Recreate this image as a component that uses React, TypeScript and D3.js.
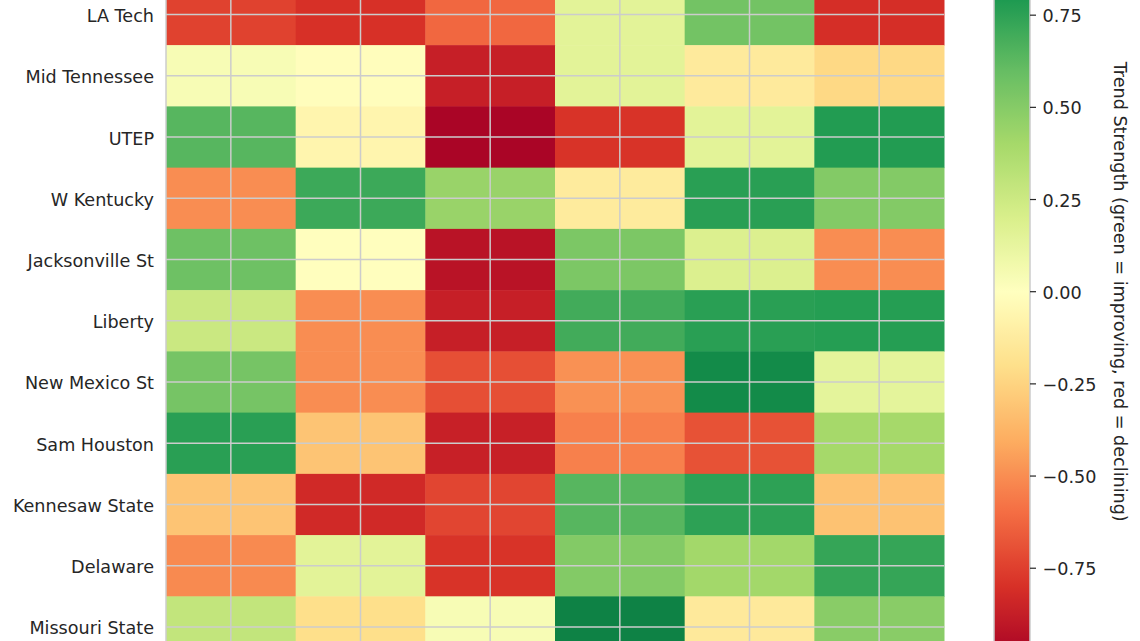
import React from "react";
import * as d3 from "d3";

const teams = [
  "LA Tech",
  "Mid Tennessee",
  "UTEP",
  "W Kentucky",
  "Jacksonville St",
  "Liberty",
  "New Mexico St",
  "Sam Houston",
  "Kennesaw State",
  "Delaware",
  "Missouri State",
];

const metrics = ["m1", "m2", "m3", "m4", "m5", "m6"];

const laTech = [-0.74, -0.8, -0.62, 0.15, 0.56, -0.81];
const midTennessee = [0.04, -0.01, -0.87, 0.15, -0.135, -0.23];
const utep = [0.64, -0.065, -0.98, -0.79, 0.15, 0.78];
const wKentucky = [-0.5, 0.71, 0.44, -0.13, 0.76, 0.51];
const jacksonvilleSt = [0.575, -0.005, -0.92, 0.53, 0.184, -0.5];
const liberty = [0.26, -0.5, -0.87, 0.695, 0.76, 0.77];
const newMexicoSt = [0.55, -0.5, -0.7, -0.49, 0.855, 0.14];
const samHouston = [0.76, -0.31, -0.865, -0.54, -0.69, 0.4];
const kennesawState = [-0.31, -0.83, -0.73, 0.64, 0.75, -0.32];
const delaware = [-0.51, 0.15, -0.79, 0.51, 0.41, 0.73];
const missouriState = [0.29, -0.2, 0.04, 0.89, -0.14, 0.49];

const values = [
  laTech,
  midTennessee,
  utep,
  wKentucky,
  jacksonvilleSt,
  liberty,
  newMexicoSt,
  samHouston,
  kennesawState,
  delaware,
  missouriState,
];

const cbTicks = [-0.75, -0.5, -0.25, 0, 0.25, 0.5, 0.75];
const cbLabel = "Trend Strength (green = improving, red = declining)";

const W = 1140;
const H = 641;

export default function App() {
  const scheme = d3.schemeRdYlGn[11] as string[];
  const color = d3
    .scaleLinear<string>()
    .domain(d3.range(11).map((i) => -1 + i * 0.2))
    .range(scheme)
    .interpolate(d3.interpolateRgb)
    .clamp(true);

  const x = d3.scaleBand<string>().domain(metrics).range([166, 944]);
  const y = d3.scaleBand<string>().domain(teams).range([-16.1, 657.6]);

  const cbY = d3.scaleLinear().domain([-1, 1]).range([660.4, -77]);
  const cbX0 = 994;
  const cbX1 = 1030;

  const stops = d3.range(0, 101).map((i) => {
    const v = 1 - (i / 100) * 2;
    return { off: i, c: color(v) };
  });

  const textColor = "#262626";
  const font = "DejaVu Sans, sans-serif";
  const gridColor = "#cccccc";
  const fs = 17.6;

  return (
    <svg
      width={W}
      height={H}
      style={{ position: "absolute", left: 0, top: 0, background: "#fff" }}
    >
      <defs>
        <linearGradient id="cbGrad" x1="0" y1="0" x2="0" y2="1">
          {stops.map((s) => (
            <stop key={s.off} offset={`${s.off}%`} stopColor={s.c} />
          ))}
        </linearGradient>
      </defs>
      <rect x={0} y={0} width={W} height={H} fill="#fff" />
      {teams.map((t, i) =>
        metrics.map((m, j) => (
          <rect
            key={`${t}-${m}`}
            x={x(m)}
            y={y(t)}
            width={x.bandwidth() + 0.5}
            height={y.bandwidth() + 0.5}
            fill={color(values[i][j])}
          />
        ))
      )}
      {metrics.map((m) => {
        const cx = (x(m) as number) + x.bandwidth() / 2;
        return (
          <line
            key={`gv-${m}`}
            x1={cx}
            x2={cx}
            y1={y.range()[0]}
            y2={y.range()[1]}
            stroke={gridColor}
            strokeWidth={1.5}
          />
        );
      })}
      {teams.map((t) => {
        const cy = (y(t) as number) + y.bandwidth() / 2;
        return (
          <line
            key={`gh-${t}`}
            x1={x.range()[0]}
            x2={x.range()[1]}
            y1={cy}
            y2={cy}
            stroke={gridColor}
            strokeWidth={1.5}
          />
        );
      })}
      <line
        x1={166}
        x2={166}
        y1={y.range()[0]}
        y2={y.range()[1]}
        stroke={gridColor}
        strokeWidth={1.5}
      />
      {teams.map((t) => (
        <text
          key={`lbl-${t}`}
          x={154}
          y={(y(t) as number) + y.bandwidth() / 2 + 1.5}
          textAnchor="end"
          dominantBaseline="central"
          fontFamily={font}
          fontSize={fs}
          fill={textColor}
        >
          {t}
        </text>
      ))}
      <rect
        x={cbX0}
        y={cbY(1)}
        width={cbX1 - cbX0}
        height={cbY(-1) - cbY(1)}
        fill="url(#cbGrad)"
        stroke={gridColor}
        strokeWidth={1.5}
      />
      {cbTicks.map((v) => (
        <g key={`cbt-${v}`}>
          <line
            x1={cbX1}
            x2={cbX1 + 6}
            y1={cbY(v)}
            y2={cbY(v)}
            stroke={textColor}
            strokeWidth={1.2}
          />
          <text
            x={cbX1 + 12.5}
            y={cbY(v) + 1}
            dominantBaseline="central"
            fontFamily={font}
            fontSize={fs}
            fill={textColor}
          >
            {d3.format(".2f")(v).replace("-", "\u2212")}
          </text>
        </g>
      ))}
      <text
        transform={`translate(1120,${cbY(0)}) rotate(90)`}
        textAnchor="middle"
        dominantBaseline="central"
        fontFamily={font}
        fontSize={fs}
        fill={textColor}
      >
        {cbLabel}
      </text>
    </svg>
  );
}
